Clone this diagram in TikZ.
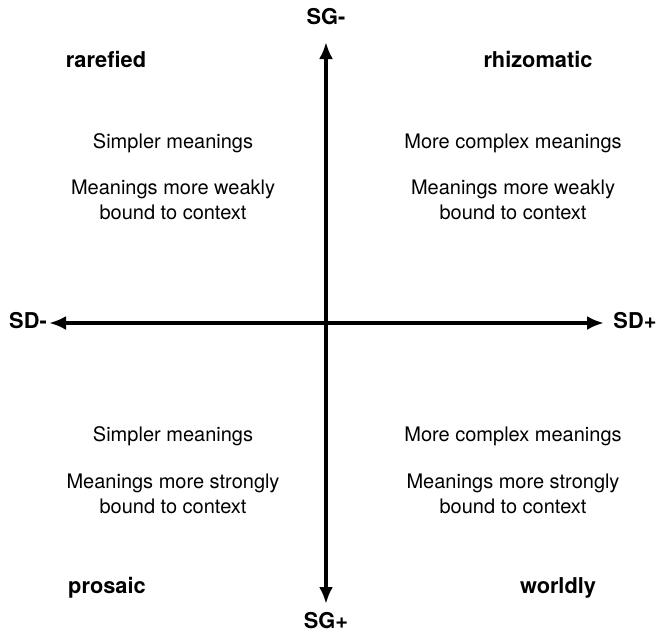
\documentclass[tikz,border=0pt]{standalone}
\usepackage{fontspec}
\setmainfont{TeX Gyre Heros}
\usetikzlibrary{arrows.meta}
\begin{document}
\begin{tikzpicture}[x=1pt,y=-1pt,
  axis/.style={line width=3.6pt, {Latex[length=17pt,width=14pt]}-{Latex[length=17pt,width=14pt]}},
  lab/.style={font=\fontsize{21.8}{25}\selectfont\bfseries, inner sep=0pt},
  txt/.style={font=\fontsize{20}{25}\selectfont, align=center, inner sep=0pt}]
\useasboundingbox (0,0) rectangle (657,633);
\coordinate (top) at (326,42);
\coordinate (bot) at (326,604);
\coordinate (left) at (49,323);
\coordinate (right) at (604,323);
\draw[axis] (top) -- (bot);
\draw[axis] (left) -- (right);
\node[lab] (sgm) at (326,17) {SG-};
\node[lab] (sgp) at (326,621) {SG+};
\node[lab] (sdm) at (28,321) {SD-};
\node[lab] (sdp) at (635,321) {SD+};
\node[lab] (rar) at (106,59) {rarefied};
\node[lab] (rhi) at (538,59) {rhizomatic};
\node[lab] (pro) at (107,588) {prosaic};
\node[lab] (wor) at (558,588) {worldly};
\node[txt] (tl1) at (173,143) {Simpler meanings};
\node[txt] (tl2) at (173,200) {Meanings more weakly\\bound to context};
\node[txt] (tr1) at (513,143) {More complex meanings};
\node[txt] (tr2) at (513,200) {Meanings more weakly\\bound to context};
\node[txt] (bl1) at (173,436) {Simpler meanings};
\node[txt] (bl2) at (173,494) {Meanings more strongly\\bound to context};
\node[txt] (br1) at (513,436) {More complex meanings};
\node[txt] (br2) at (513,494) {Meanings more strongly\\bound to context};
\end{tikzpicture}
\end{document}
